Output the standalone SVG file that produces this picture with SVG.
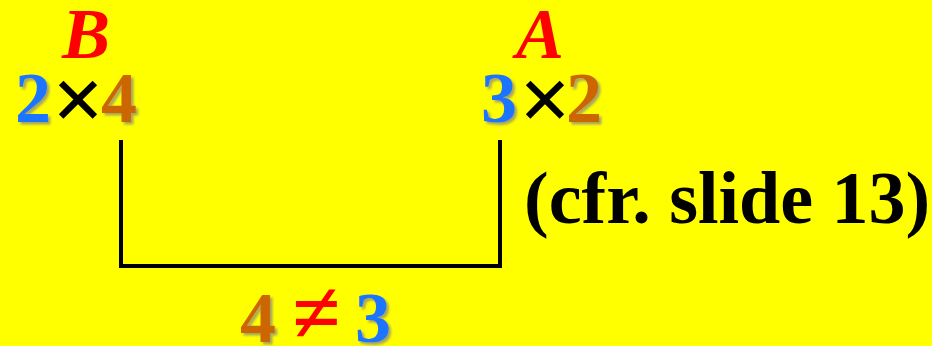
<svg xmlns="http://www.w3.org/2000/svg" width="932" height="346" viewBox="0 0 932 346">
<defs>
<filter id="sh" x="-10%" y="-10%" width="130%" height="130%">
<feDropShadow dx="2.5" dy="2.5" stdDeviation="1.2" flood-color="#808080" flood-opacity="0.7"/>
</filter>
<style>
.t{font-family:"Liberation Serif","Times New Roman",serif;font-weight:bold;font-size:72px}
.x{font-family:"Liberation Serif","Times New Roman",serif;font-weight:bold;font-size:92px;fill:#000}
.sh{filter:url(#sh)}
.bl{fill:#1a75ff}.or{fill:#cc6600}.rd{fill:#ff0000}.bk{fill:#000}
.lbl{font-style:italic}
</style>
</defs>
<rect width="932" height="346" fill="#ffff00"/>
<g id="connectors">
<path d="M121,140 V266 H500 V140" fill="none" stroke="#000" stroke-width="4"/>
</g>
<g id="nodeB">
<text class="t lbl rd" x="62" y="58">B</text>
<text class="t bl sh" x="15" y="122">2</text>
<text class="x" x="52" y="130">×</text>
<text class="t or sh" x="101" y="122">4</text>
</g>
<g id="nodeA">
<text class="t lbl rd" x="516" y="58">A</text>
<text class="t bl sh" x="481" y="122">3</text>
<text class="x" x="519" y="130">×</text>
<text class="t or sh" x="566" y="122">2</text>
</g>
<g id="note">
<text class="t bk" x="524" y="223" style="font-size:74px">(cfr. slide 13)</text>
</g>
<g id="neq">
<text class="t or sh" x="240" y="342">4</text>
<text class="x rd" x="292" y="342" style="font-size:88px">≠</text>
<text class="t bl sh" x="355" y="342">3</text>
</g>
</svg>
